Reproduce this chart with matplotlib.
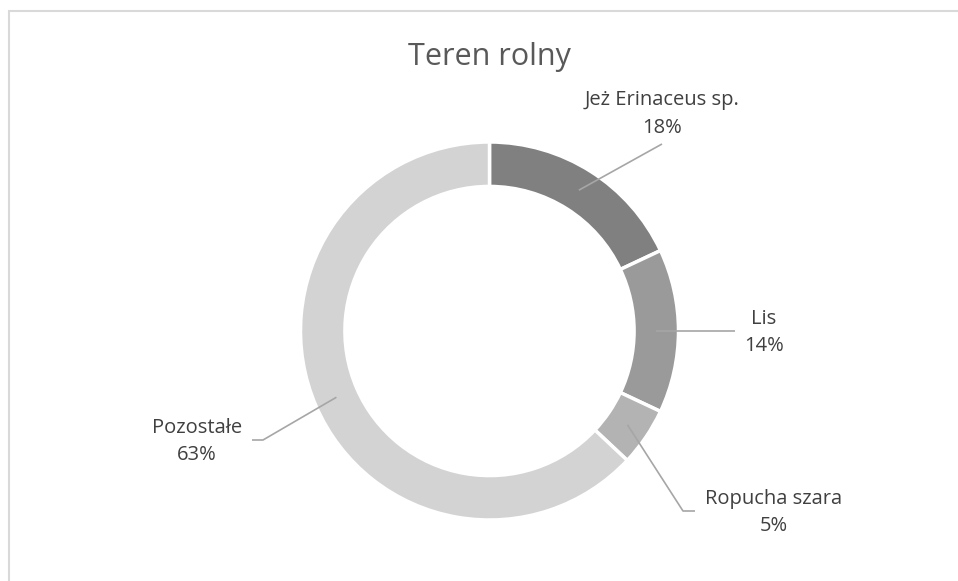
import numpy as np
import matplotlib.pyplot as plt
from matplotlib.patches import Rectangle

# data
categories = ['Jeż Erinaceus sp.', 'Lis', 'Ropucha szara', 'Pozostałe']
shares = [18, 14, 5, 63]
colors = ['#808080', '#9a9a9a', '#b3b3b3', '#d3d3d3']
title = 'Teren rolny'

W, H = 958, 581
cx, cy, rad = 489.5, 331, 189.0   # donut centre / radius in pixels


def px(x, y):
    # pixel position -> data coords (pie radius = 1)
    return (x - cx) / rad, (cy - y) / rad


plt.rcParams['font.family'] = ['Open Sans', 'DejaVu Sans']
fig = plt.figure(figsize=(W / 100, H / 100), dpi=100)
fig.patch.set_facecolor('white')

# chart area frame (only top/left visible in the crop)
fig.patches.append(Rectangle((9 / W, -0.1), 1.1, (H - 11) / H + 0.1,
                             transform=fig.transFigure, fill=False,
                             edgecolor='#d9d9d9', linewidth=1.5))

ax = fig.add_axes([0, 0, 1, 1])
x0, y0 = px(0, H)
x1, y1 = px(W, 0)

wedges, _ = ax.pie(shares, colors=colors, startangle=90, counterclock=False,
                   radius=1.0, wedgeprops=dict(width=0.235, edgecolor='white',
                                               linewidth=2.5))
ax.set_aspect('auto')
ax.set_xlim(x0, x1)
ax.set_ylim(y0, y1)
ax.axis('off')

ax.text(*px(489.5, 57), title, ha='center', va='center', fontsize=22,
        color='#595959')

# label text position (pixels) and leader line path (pixels, after the wedge point)
label_pos = [(662, 114), (764, 332.5), (774, 512.5), (197, 441.5)]
leader_path = [
    [(662, 144)],
    [(735, cy)],
    [(683, 511), (695, 511)],
    [(263, 440), (252, 440)],
]

mid_r = 1 - 0.235 / 2
for w, cat, val, lp, path in zip(wedges, categories, shares, label_pos, leader_path):
    ang = np.deg2rad((w.theta1 + w.theta2) / 2)
    sx, sy = mid_r * np.cos(ang), mid_r * np.sin(ang)
    pts = [(sx, sy)] + [px(*p) for p in path]
    xs, ys = zip(*pts)
    ax.plot(xs, ys, color='#a6a6a6', linewidth=1.2, solid_capstyle='butt')
    ax.text(*px(*lp), f'{cat}\n{val}%', ha='center', va='center',
            fontsize=14.5, color='#404040', linespacing=1.5)

fig.savefig('out.png', dpi=100)
